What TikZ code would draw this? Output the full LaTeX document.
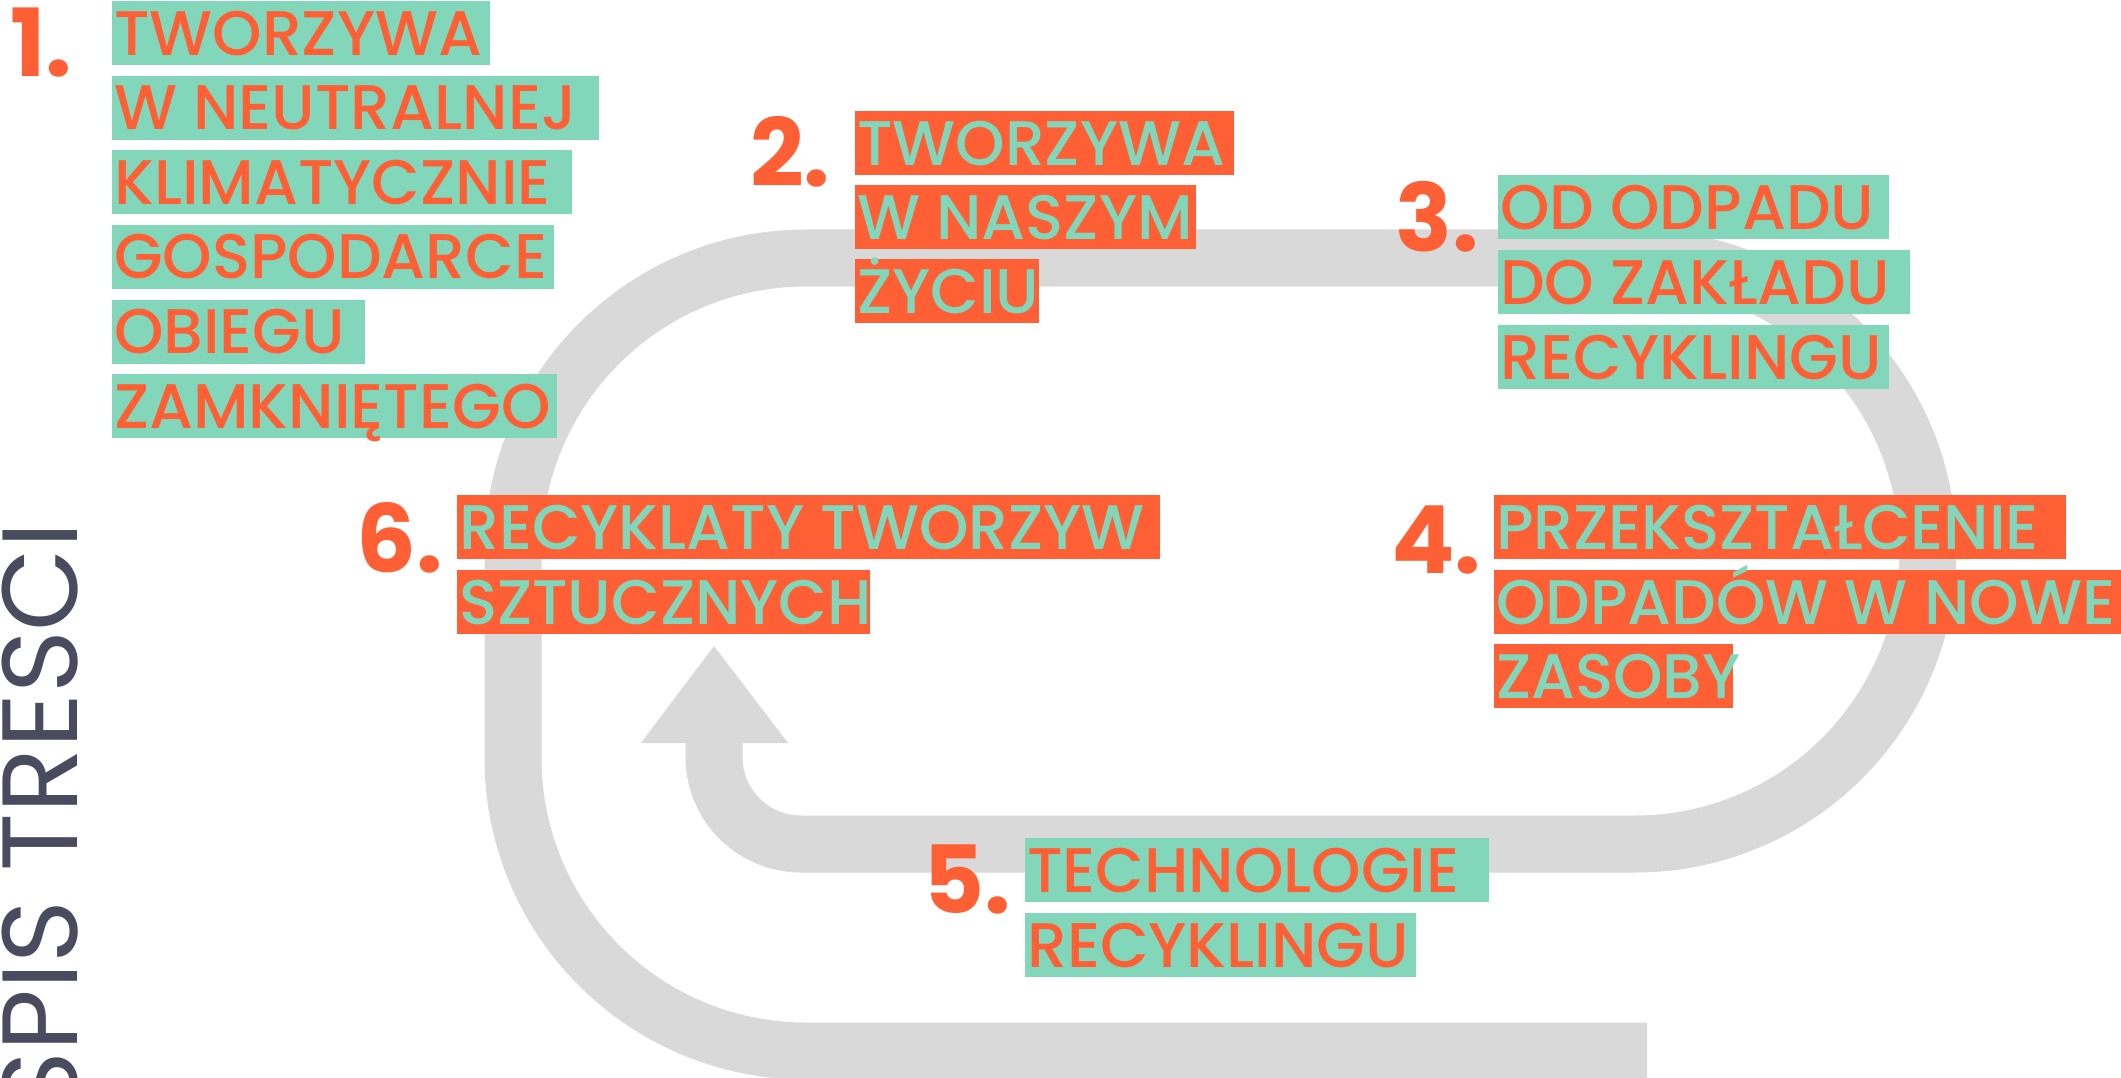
\documentclass[tikz,border=0pt]{standalone}
\usepackage{fontspec}
\setmainfont{Poppins}
\newfontfamily\labelfont{Poppins Medium}
\newfontfamily\numberfont{Poppins Bold}
\definecolor{mint}{HTML}{82D7BA}
\definecolor{coral}{HTML}{FF5F35}
\definecolor{track}{HTML}{D9D9D9}
\definecolor{slate}{HTML}{4A4B5F}
\tikzset{
  lbl/.style={anchor=north west, inner sep=0pt, minimum height=64pt,
    text height=44pt, text depth=0pt,
    font=\labelfont\fontsize{63}{63}\selectfont},
  ongreen/.style={lbl, fill=mint, text=coral},
  onorange/.style={lbl, fill=coral, text=mint},
  num/.style={anchor=base west, inner sep=0pt, text=coral,
    font=\numberfont\fontsize{94}{94}\selectfont},
  band/.style={draw=track, line width=57pt},
}
% a highlighted line of text: fixed box width, text flush left
\newcommand\hl[2]{\makebox[#1pt][l]{\hspace{2pt}#2}}
\begin{document}
\begin{tikzpicture}[x=1pt, y=-1pt]
\fill[white] (0,0) rectangle (2121,1078);
\useasboundingbox (0,0) rectangle (2121,1078);

% closed loop track
\draw[band] (1647,1051) -- (806,1051) arc (90:180:293) -- (513,551)
  arc (180:270:293) -- (1635,258) arc (270:450:293) -- (801,844)
  arc (90:180:87) -- (714,743);
\coordinate (tip) at (714,646);
\fill[track] (641,743) -- (tip) -- (788,743) -- cycle;

% heading
\node[anchor=base east, rotate=90, inner sep=0pt, text=slate,
  font=\fontsize{107}{107}\selectfont] (title) at (77,522) {SPIS TRESCI};

% 1
\node[num] (n1) at (10,77) {1.};
\node[ongreen] (t1a) at (112,1)     {\hl{378}{TWORZYWA}};
\node[ongreen] (t1b) at (112,75.6)  {\hl{487}{W NEUTRALNEJ}};
\node[ongreen] (t1c) at (112,150.2) {\hl{460}{KLIMATYCZNIE}};
\node[ongreen] (t1d) at (112,224.8) {\hl{442}{GOSPODARCE}};
\node[ongreen] (t1e) at (112,299.4) {\hl{253}{OBIEGU}};
\node[ongreen] (t1f) at (112,374)   {\hl{445}{ZAMKNIĘTEGO}};

% 2
\node[num] (n2) at (750,187) {2.};
\node[onorange] (t2a) at (855,111) {\hl{379}{TWORZYWA}};
\node[onorange] (t2b) at (855,185) {\hl{341}{W NASZYM}};
\node[onorange] (t2c) at (855,259) {\hl{184}{ŻYCIU}};

% 3
\node[num] (n3) at (1395,252) {3.};
\node[ongreen] (t3a) at (1498,175) {\hl{391}{OD ODPADU}};
\node[ongreen] (t3b) at (1498,250) {\hl{412}{DO ZAKŁADU}};
\node[ongreen] (t3c) at (1498,325) {\hl{391}{RECYKLINGU}};

% 4
\node[num] (n4) at (1391,573) {4.};
\node[onorange] (t4a) at (1494,495) {\hl{572}{PRZEKSZTAŁCENIE}};
\node[onorange] (t4b) at (1494,570) {\hl{640}{ODPADÓW W NOWE}};
\node[onorange] (t4c) at (1494,644) {\hl{239}{ZASOBY}};

% 5
\node[num] (n5) at (923,913) {5.};
\node[ongreen] (t5a) at (1025,838) {\hl{464}{TECHNOLOGIE}};
\node[ongreen] (t5b) at (1025,913) {\hl{391}{RECYKLINGU}};

% 6
\node[num] (n6) at (356,572) {6.};
\node[onorange] (t6a) at (457,495) {\hl{703}{RECYKLATY TWORZYW}};
\node[onorange] (t6b) at (457,570) {\hl{413}{SZTUCZNYCH}};
\end{tikzpicture}
\end{document}
